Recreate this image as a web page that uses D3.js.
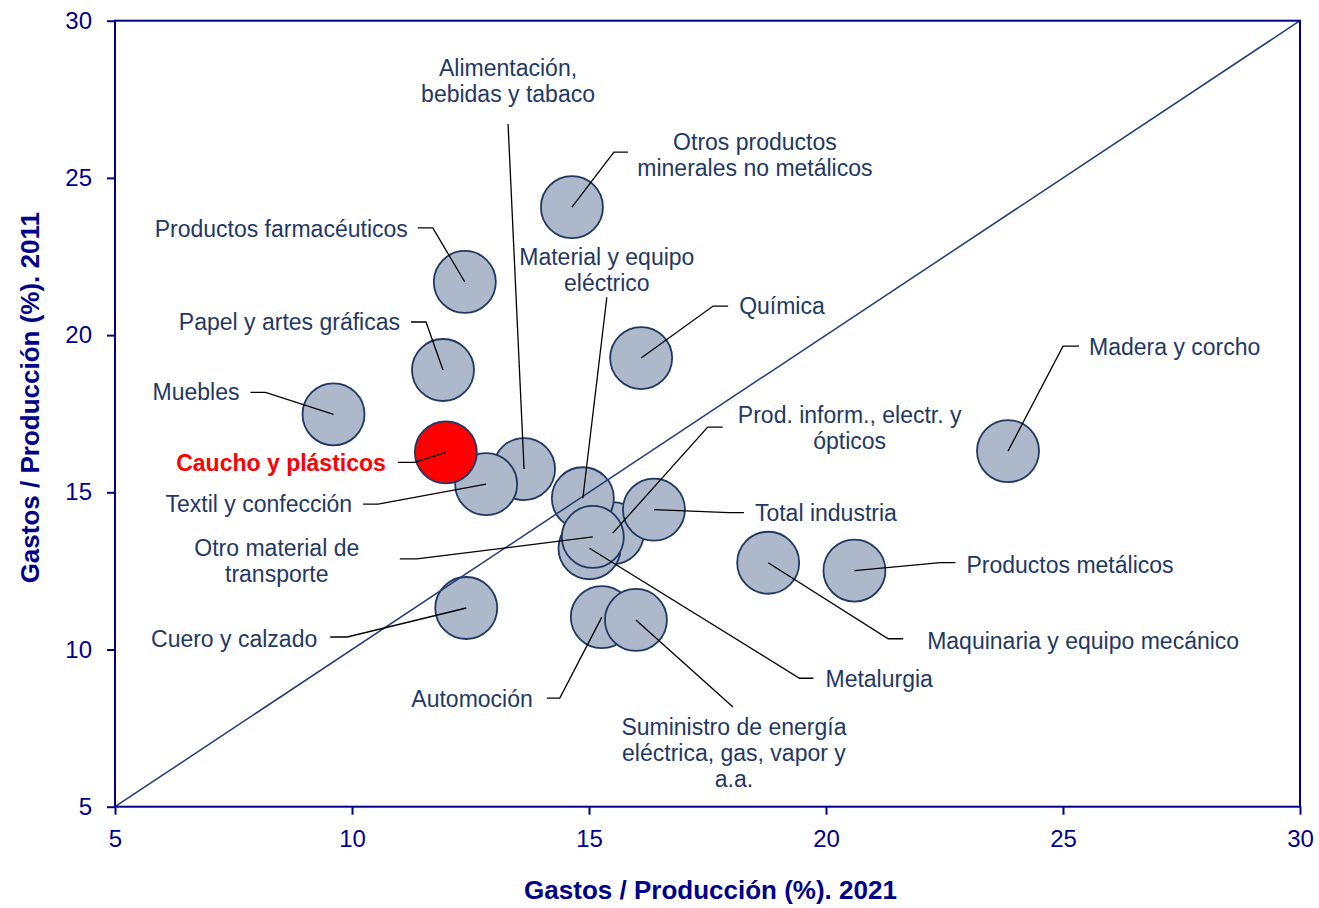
<!DOCTYPE html>
<html>
<head>
<meta charset="utf-8">
<script src="https://cdn.jsdelivr.net/npm/d3@7"></script>
<style>
  body { margin: 0; background: #fff; }
  text { font-family: Arial, "Liberation Sans", sans-serif; }
</style>
</head>
<body>
<svg id="chart" width="1319" height="908"></svg>
<script>
// sectores, ratio gastos / producción (%)
const sectors = [
  "Otros productos minerales no metálicos", "Productos farmacéuticos", "Papel y artes gráficas",
  "Química", "Muebles", "Madera y corcho", "Alimentación, bebidas y tabaco",
  "Textil y confección", "Caucho y plásticos", "Prod. inform., electr. y ópticos",
  "Metalurgia", "Material y equipo eléctrico", "Total industria", "Otro material de transporte",
  "Cuero y calzado", "Automoción", "Suministro de energía eléctrica, gas, vapor y a.a.",
  "Maquinaria y equipo mecánico", "Productos metálicos"
];
const ratio2021 = [14.64, 12.38, 11.92, 16.10, 9.61, 23.84, 13.63, 12.83, 11.98, 15.50,
                   15.01, 14.87, 16.37, 15.08, 12.41, 15.27, 15.99, 18.78, 20.60];
const ratio2011 = [24.07, 21.69, 18.89, 19.27, 17.48, 16.31, 15.74, 15.26, 16.27, 13.70,
                   13.22, 14.81, 14.45, 13.58, 11.32, 11.03, 10.94, 12.76, 12.51];
const highlighted = "Caucho y plásticos";
const axisTicks = [5, 10, 15, 20, 25, 30];
const xTitle = "Gastos / Producción (%). 2021";
const yTitle = "Gastos / Producción (%). 2011";

// label placement, pixel offsets from the bubble centre
// [text lines, anchor, tx, ty, leader start x, y, elbow x, y]
const labelLayout = [
  [["Otros productos", "minerales no metálicos"], "middle", 183, -65, 56, -55, 42, -55],
  [["Productos farmacéuticos"], "end", -57, -53, -47, -54, -32, -54],
  [["Papel y artes gráficas"], "end", -43, -48, -32, -48, -17, -48],
  [["Química"], "start", 98, -52, 87, -52, 72, -52],
  [["Muebles"], "end", -94, -22, -83, -22, -68, -22],
  [["Madera y corcho"], "start", 81, -104, 71, -105, 55, -105],
  [["Alimentación,", "bebidas y tabaco"], "middle", -16, -401, -16, -345, -16, -345],
  [["Textil y confección"], "end", -134, 20, -123, 20, -108, 20],
  [["Caucho y plásticos"], "end", -60, 11, -48, 10, -31, 10],
  [["Prod. inform., electr. y", "ópticos"], "middle", 237, -118, 110, -106, 95, -106],
  [["Metalurgia"], "start", 236, 131, 224, 130, 210, 130],
  [["Material y equipo", "eléctrico"], "middle", 24, -241, 24, -201, 24, -201],
  [["Total industria"], "start", 101, 3, 90, 3, 75, 3],
  [["Otro material de", "transporte"], "middle", -316, 11, -193, 22, -176, 22],
  [["Cuero y calzado"], "end", -149, 31, -136, 29, -119, 29],
  [["Automoción"], "end", -69, 82, -55, 81, -42, 81],
  [["Suministro de energía", "eléctrica, gas, vapor y", "a.a."], "middle", 98, 107, 97, 87, 97, 87],
  [["Maquinaria y equipo mecánico"], "start", 159, 78, 135, 76, 120, 76],
  [["Productos metálicos"], "start", 112, -6, 101, -8, 86, -8]
];

const axisColor = "#00008B";
const textColor = "#1F3864";
const margin = {top: 20.7, right: 19, bottom: 101.3, left: 115};
const width = 1319 - margin.left - margin.right;
const height = 908 - margin.top - margin.bottom;
const radius = 31;

const svg = d3.select("#chart");
const g = svg.append("g").attr("transform", `translate(${margin.left},${margin.top})`);

const x = d3.scaleLinear().domain([5, 30]).range([0, width]);
const y = d3.scaleLinear().domain([5, 30]).range([height, 0]);

const data = sectors.map((s, i) => ({
  name: s, x: ratio2021[i], y: ratio2011[i], layout: labelLayout[i]
}));

// axes
const xAxis = g.append("g").attr("transform", `translate(0,${height})`)
  .call(d3.axisBottom(x).tickValues(axisTicks).tickSize(8).tickPadding(15).tickSizeOuter(0));
const yAxis = g.append("g")
  .call(d3.axisLeft(y).tickValues(axisTicks).tickSize(8).tickPadding(15).tickSizeOuter(0));
[xAxis, yAxis].forEach(a => {
  a.select(".domain").remove();
  a.selectAll(".tick line").attr("stroke", axisColor).attr("stroke-width", 2);
  a.selectAll(".tick text").attr("fill", axisColor).style("font-size", "24px")
    .style("font-family", "Arial, 'Liberation Sans', sans-serif");
});

// bubbles
g.append("g").selectAll("circle").data(data).enter().append("circle")
  .attr("cx", d => x(d.x)).attr("cy", d => y(d.y)).attr("r", radius)
  .attr("fill", d => d.name === highlighted ? "#FF0000" : "#ADB9CA")
  .attr("stroke", "#1F3864").attr("stroke-width", 1.8);

// diagonal 45º
g.append("line")
  .attr("x1", x(5)).attr("y1", y(5)).attr("x2", x(30)).attr("y2", y(30))
  .attr("stroke", "#1F3B73").attr("stroke-width", 1.5);

// frame
g.append("rect").attr("width", width).attr("height", height)
  .attr("fill", "none").attr("stroke", axisColor).attr("stroke-width", 2);

// leaders
g.append("g").selectAll("path").data(data).enter().append("path")
  .attr("fill", "none").attr("stroke", "#000").attr("stroke-width", 1.3)
  .attr("d", d => {
    const cx = x(d.x), cy = y(d.y), L = d.layout;
    return `M${cx + L[4]},${cy + L[5]}L${cx + L[6]},${cy + L[7]}L${cx},${cy}`;
  });

// labels
const labels = g.append("g").selectAll("text").data(data).enter().append("text")
  .attr("text-anchor", d => d.layout[1])
  .attr("fill", d => d.name === highlighted ? "#FF0000" : textColor)
  .style("font-weight", d => d.name === highlighted ? "bold" : "normal")
  .style("font-size", "23px");
labels.selectAll("tspan").data(d => d.layout[0].map((t, k) => ({t, k, d}))).enter().append("tspan")
  .attr("x", o => x(o.d.x) + o.d.layout[2])
  .attr("y", o => y(o.d.y) + o.d.layout[3] + o.k * 26)
  .attr("dy", "0.35em")
  .text(o => o.t);

// axis titles
svg.append("text")
  .attr("x", margin.left + width / 2 + 3).attr("y", 890).attr("dy", "0.35em")
  .attr("text-anchor", "middle").attr("fill", axisColor)
  .style("font-weight", "bold").style("font-size", "26px")
  .text(xTitle);
svg.append("text")
  .attr("transform", `translate(30,${margin.top + height / 2 - 16}) rotate(-90)`)
  .attr("dy", "0.35em")
  .attr("text-anchor", "middle").attr("fill", axisColor)
  .style("font-weight", "bold").style("font-size", "26px")
  .text(yTitle);
</script>
</body>
</html>
